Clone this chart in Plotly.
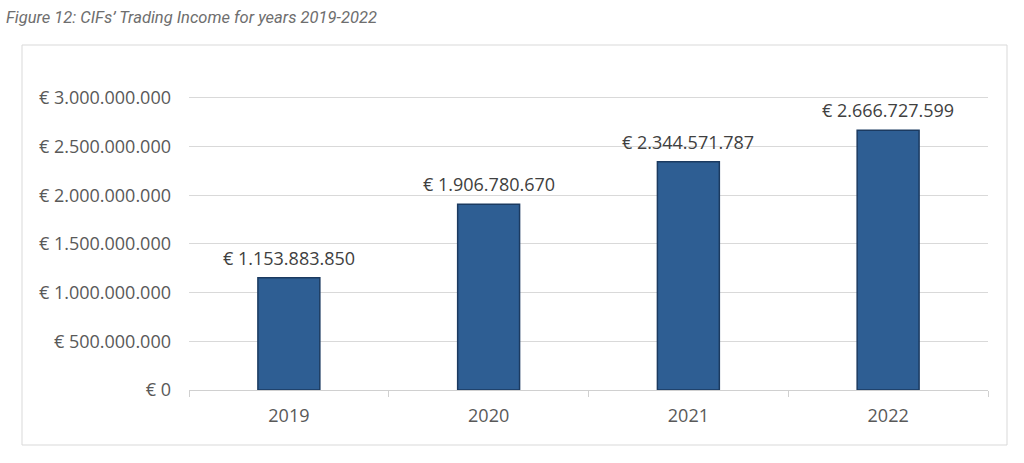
import plotly.graph_objects as go

years = ["2019", "2020", "2021", "2022"]
income = [1153883850, 1906780670, 2344571787, 2666727599]
bar_labels = ["€ 1.153.883.850", "€ 1.906.780.670", "€ 2.344.571.787", "€ 2.666.727.599"]
tick_vals = [0, 500000000, 1000000000, 1500000000, 2000000000, 2500000000, 3000000000]
tick_text = ["€ 0", "€ 500.000.000", "€ 1.000.000.000", "€ 1.500.000.000",
             "€ 2.000.000.000", "€ 2.500.000.000", "€ 3.000.000.000"]

W, H = 1024, 463
L, R, T, B = 189, 36, 93, 73
pw, ph = W - L - R, H - T - B

def px_x(x):
    return (x - L) / pw

def px_y(y):
    return (H - B - y) / ph

fig = go.Figure()
fig.add_trace(go.Bar(
    x=years, y=income,
    marker=dict(color="#2E5E93", line=dict(color="#1B3A60", width=1.5)),
    width=0.31, hoverinfo="skip",
))

annotations = [dict(text=lab, x=i, y=val, xref="x", yref="y", yanchor="bottom",
                    yshift=6, showarrow=False,
                    font=dict(family="Open Sans", size=18, color="#404040"))
               for i, (val, lab) in enumerate(zip(income, bar_labels))]
annotations.append(dict(text="<i>Figure 12: CIFs’ Trading Income for years 2019-2022</i>",
                        xref="paper", yref="paper", x=px_x(4), y=px_y(18),
                        xanchor="left", yanchor="middle", showarrow=False,
                        font=dict(family="Roboto", size=16.5, color="#6E6E6E")))

fig.update_layout(
    width=W, height=H,
    margin=dict(l=L, r=R, t=T, b=B),
    paper_bgcolor="white", plot_bgcolor="white",
    showlegend=False,
    xaxis=dict(type="category", range=[-0.5, 3.5], showline=True, linecolor="#D0D0D0",
               linewidth=1, ticks="outside", tickson="boundaries", ticklen=6,
               tickcolor="#D0D0D0", tickangle=0, ticklabelstandoff=9,
               tickfont=dict(family="Open Sans", size=18, color="#595959"),
               showgrid=False),
    yaxis=dict(range=[0, 3050000000], tickvals=tick_vals, ticktext=tick_text,
               tickfont=dict(family="Open Sans", size=18, color="#595959"),
               showgrid=True, gridcolor="#D9D9D9", gridwidth=1, zeroline=False,
               ticks="", ticklabelstandoff=17),
    shapes=[dict(type="rect", xref="paper", yref="paper",
                 x0=px_x(22), x1=px_x(1007), y0=px_y(445), y1=px_y(45),
                 line=dict(color="#D9D9D9", width=1), fillcolor="rgba(0,0,0,0)", layer="below")],
    annotations=annotations,
)

fig.write_html("out.html", config={"displayModeBar": False},
               post_script="document.body.style.margin='0';")
